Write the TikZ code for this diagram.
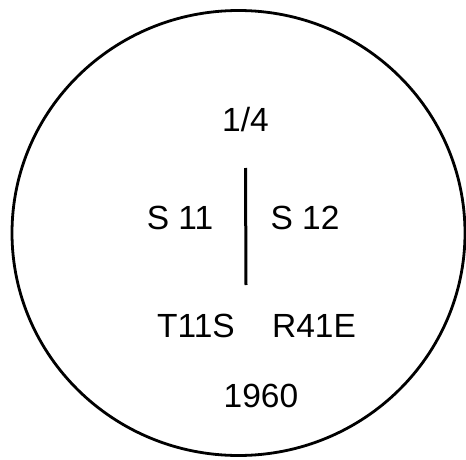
\documentclass[tikz,border=0pt]{standalone}
\usepackage{fontspec}
\setmainfont{Liberation Sans}
\begin{document}
\begin{tikzpicture}[x=1pt,y=1pt,
  lbl/.style={anchor=base,inner sep=0pt,font=\fontsize{33.5}{38}\selectfont},
  rim/.style={draw=black,line width=2.8pt}]
\useasboundingbox (0,0) rectangle (466,459);
\begin{scope}
\clip (0,0) rectangle (466,459);
\draw[rim] (238.5,226) ellipse [x radius=226.5, y radius=222.5];
\end{scope}
\node[lbl] (q) at (245.5,327) {1/4};
\node[lbl] (sl) at (180,230) {S 11};
\node[lbl] (sr) at (305,230) {S 12};
\node[lbl] (t) at (196,122) {T11S};
\node[lbl] (r) at (314,122) {R41E};
\node[lbl] (y) at (261,52) {1960};
\coordinate (ltop) at (245.5,291);
\coordinate (lbot) at (246,174);
\draw[line width=3pt] (ltop) -- (lbot);
\end{tikzpicture}
\end{document}
